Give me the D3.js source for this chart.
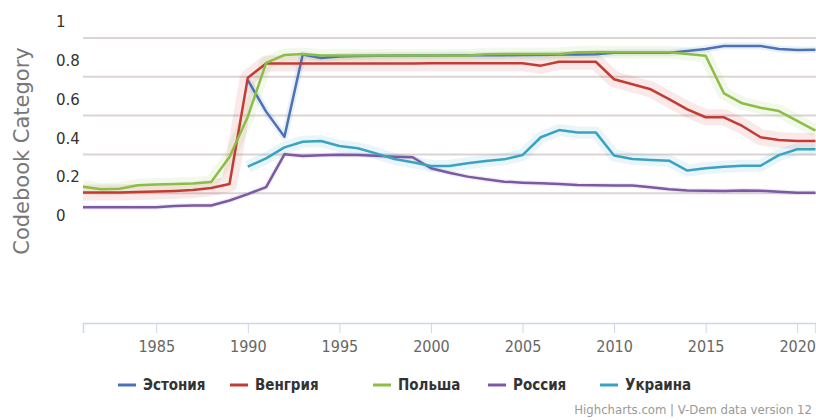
<!DOCTYPE html>
<html>
<head>
<meta charset="utf-8">
<script src="https://cdn.jsdelivr.net/npm/d3@7"></script>
<style>
  body { margin: 0; background: #fff; }
  svg { display: block; }
</style>
</head>
<body>
<div id="chart"></div>
<script>
// V-Dem series, 1981-2021 (null = no data)
const years = d3.range(1981, 2022);

const estonia = [null, null, null, null, null, null, null, null, null,
  0.701, 0.538, 0.409, 0.832, 0.814, 0.822, 0.825, 0.826, 0.827, 0.827, 0.827,
  0.828, 0.828, 0.829, 0.829, 0.830, 0.830, 0.832, 0.833, 0.834, 0.842,
  0.842, 0.842, 0.842, 0.851, 0.861, 0.876, 0.876, 0.876, 0.861, 0.856, 0.857];

const hungary = [0.121, 0.121, 0.121, 0.124, 0.126, 0.129, 0.134, 0.144, 0.165,
  0.713, 0.786, 0.786, 0.786, 0.786, 0.786, 0.786, 0.786, 0.786, 0.786, 0.787,
  0.787, 0.787, 0.787, 0.787, 0.787, 0.775, 0.795, 0.795, 0.795, 0.705,
  0.679, 0.653, 0.602, 0.550, 0.509, 0.509, 0.464, 0.406, 0.392, 0.387, 0.387];

const poland = [0.151, 0.138, 0.141, 0.158, 0.163, 0.165, 0.168, 0.175, 0.304,
  0.512, 0.789, 0.830, 0.835, 0.827, 0.827, 0.827, 0.827, 0.827, 0.827, 0.827,
  0.827, 0.827, 0.834, 0.835, 0.835, 0.835, 0.835, 0.844, 0.845, 0.844,
  0.844, 0.844, 0.844, 0.835, 0.826, 0.632, 0.581, 0.558, 0.541, 0.490, 0.440];

const russia = [0.045, 0.045, 0.045, 0.045, 0.045, 0.052, 0.054, 0.054, 0.080,
  0.113, 0.149, 0.318, 0.309, 0.313, 0.316, 0.314, 0.311, 0.306, 0.303, 0.246,
  0.223, 0.203, 0.189, 0.177, 0.172, 0.169, 0.165, 0.160, 0.158, 0.157,
  0.157, 0.148, 0.138, 0.132, 0.130, 0.129, 0.132, 0.130, 0.125, 0.120, 0.120];

const ukraine = [null, null, null, null, null, null, null, null, null,
  0.254, 0.297, 0.354, 0.383, 0.387, 0.361, 0.349, 0.323, 0.294, 0.277, 0.258,
  0.258, 0.272, 0.284, 0.292, 0.314, 0.406, 0.443, 0.431, 0.431, 0.312,
  0.294, 0.289, 0.285, 0.234, 0.246, 0.254, 0.259, 0.259, 0.314, 0.344, 0.344];

const names = ["Эстония", "Венгрия", "Польша", "Россия", "Украина"];
const colors = ["#4a72b8", "#c43b34", "#8cbd45", "#7b5aa3", "#3aa3c2"];
const yTicks = [0, 0.2, 0.4, 0.6, 0.8, 1];
const xTicks = [1985, 1990, 1995, 2000, 2005, 2010, 2015, 2020];

const series = [estonia, hungary, poland, russia, ukraine].map((vals, i) => ({
  name: names[i],
  color: colors[i],
  points: years.map((yr, j) => ({ year: yr, v: vals[j] }))
}));

const width = 816, height = 420;
const svg = d3.select("#chart").append("svg")
  .attr("width", width)
  .attr("height", height);

const x = d3.scaleLinear().domain([1981, 2021]).range([83, 815.5]);
const y = d3.scaleLinear().domain([0, 1]).range([216, 22]);
const gridShift = 16;   // gridlines sit a bit below their labels in the source

// gridlines (not for 0)
svg.append("g").selectAll("line")
  .data(yTicks.filter(t => t > 0))
  .join("line")
  .attr("x1", 83).attr("x2", width)
  .attr("y1", d => y(d) + gridShift).attr("y2", d => y(d) + gridShift)
  .attr("stroke", "#dcd4d4")
  .attr("stroke-width", 2);

// y labels
svg.append("g").selectAll("text")
  .data(yTicks)
  .join("text")
  .attr("x", 56)
  .attr("y", d => y(d))
  .attr("dy", "0.35em")
  .attr("font-family", "DejaVu Sans, sans-serif")
  .attr("font-size", 15)
  .attr("fill", "#333")
  .text(d => d3.format("~g")(d));

svg.append("text")
  .attr("transform", "translate(29,151) rotate(-90)")
  .attr("text-anchor", "middle")
  .attr("font-family", "DejaVu Sans, sans-serif")
  .attr("font-size", 21)
  .attr("fill", "#777")
  .text("Codebook Category");

// x axis
const xAxis = svg.append("g")
  .attr("transform", "translate(0,323)")
  .call(d3.axisBottom(x).tickValues(xTicks).tickFormat(d3.format("d")).tickSize(10).tickPadding(8));
xAxis.select(".domain").attr("stroke", "#ccd6eb").attr("stroke-width", 1.5);
xAxis.selectAll(".tick line").attr("stroke", "#ccd6eb");
xAxis.selectAll(".tick text")
  .attr("font-family", "Liberation Sans Narrow, DejaVu Sans Condensed, sans-serif")
  .attr("font-size", 16)
  .attr("fill", "#666");

const line = d3.line()
  .defined(d => d.v !== null)
  .x(d => x(d.year))
  .y(d => y(d.v));

// soft halo standing in for the uncertainty bands
const halo = [7, 16, 13, 5, 12];
svg.append("g").selectAll("path")
  .data(series)
  .join("path")
  .attr("d", d => line(d.points))
  .attr("fill", "none")
  .attr("stroke", d => d.color)
  .attr("stroke-width", (d, i) => halo[i])
  .attr("stroke-linejoin", "round")
  .attr("opacity", 0.11);

svg.append("g").selectAll("path")
  .data(series)
  .join("path")
  .attr("d", d => line(d.points))
  .attr("fill", "none")
  .attr("stroke", d => d.color)
  .attr("stroke-width", 2.5)
  .attr("stroke-linejoin", "round");

// legend
const legendX = [118, 230, 373, 488, 600];
const legend = svg.append("g").selectAll("g")
  .data(series)
  .join("g")
  .attr("transform", (d, i) => `translate(${legendX[i]},385)`);
legend.append("line")
  .attr("x1", 0).attr("x2", 18)
  .attr("stroke", d => d.color)
  .attr("stroke-width", 3);
legend.append("text")
  .attr("x", 25)
  .attr("dy", "0.35em")
  .attr("font-family", "Liberation Sans Narrow, DejaVu Sans Condensed, sans-serif")
  .attr("font-weight", "bold")
  .attr("font-size", 15)
  .attr("fill", "#333")
  .text(d => d.name);

svg.append("text")
  .attr("x", 812)
  .attr("y", 414)
  .attr("text-anchor", "end")
  .attr("font-family", "Liberation Sans Narrow, DejaVu Sans Condensed, sans-serif")
  .attr("font-size", 13)
  .attr("fill", "#999")
  .text("Highcharts.com | V-Dem data version 12");
</script>
</body>
</html>
